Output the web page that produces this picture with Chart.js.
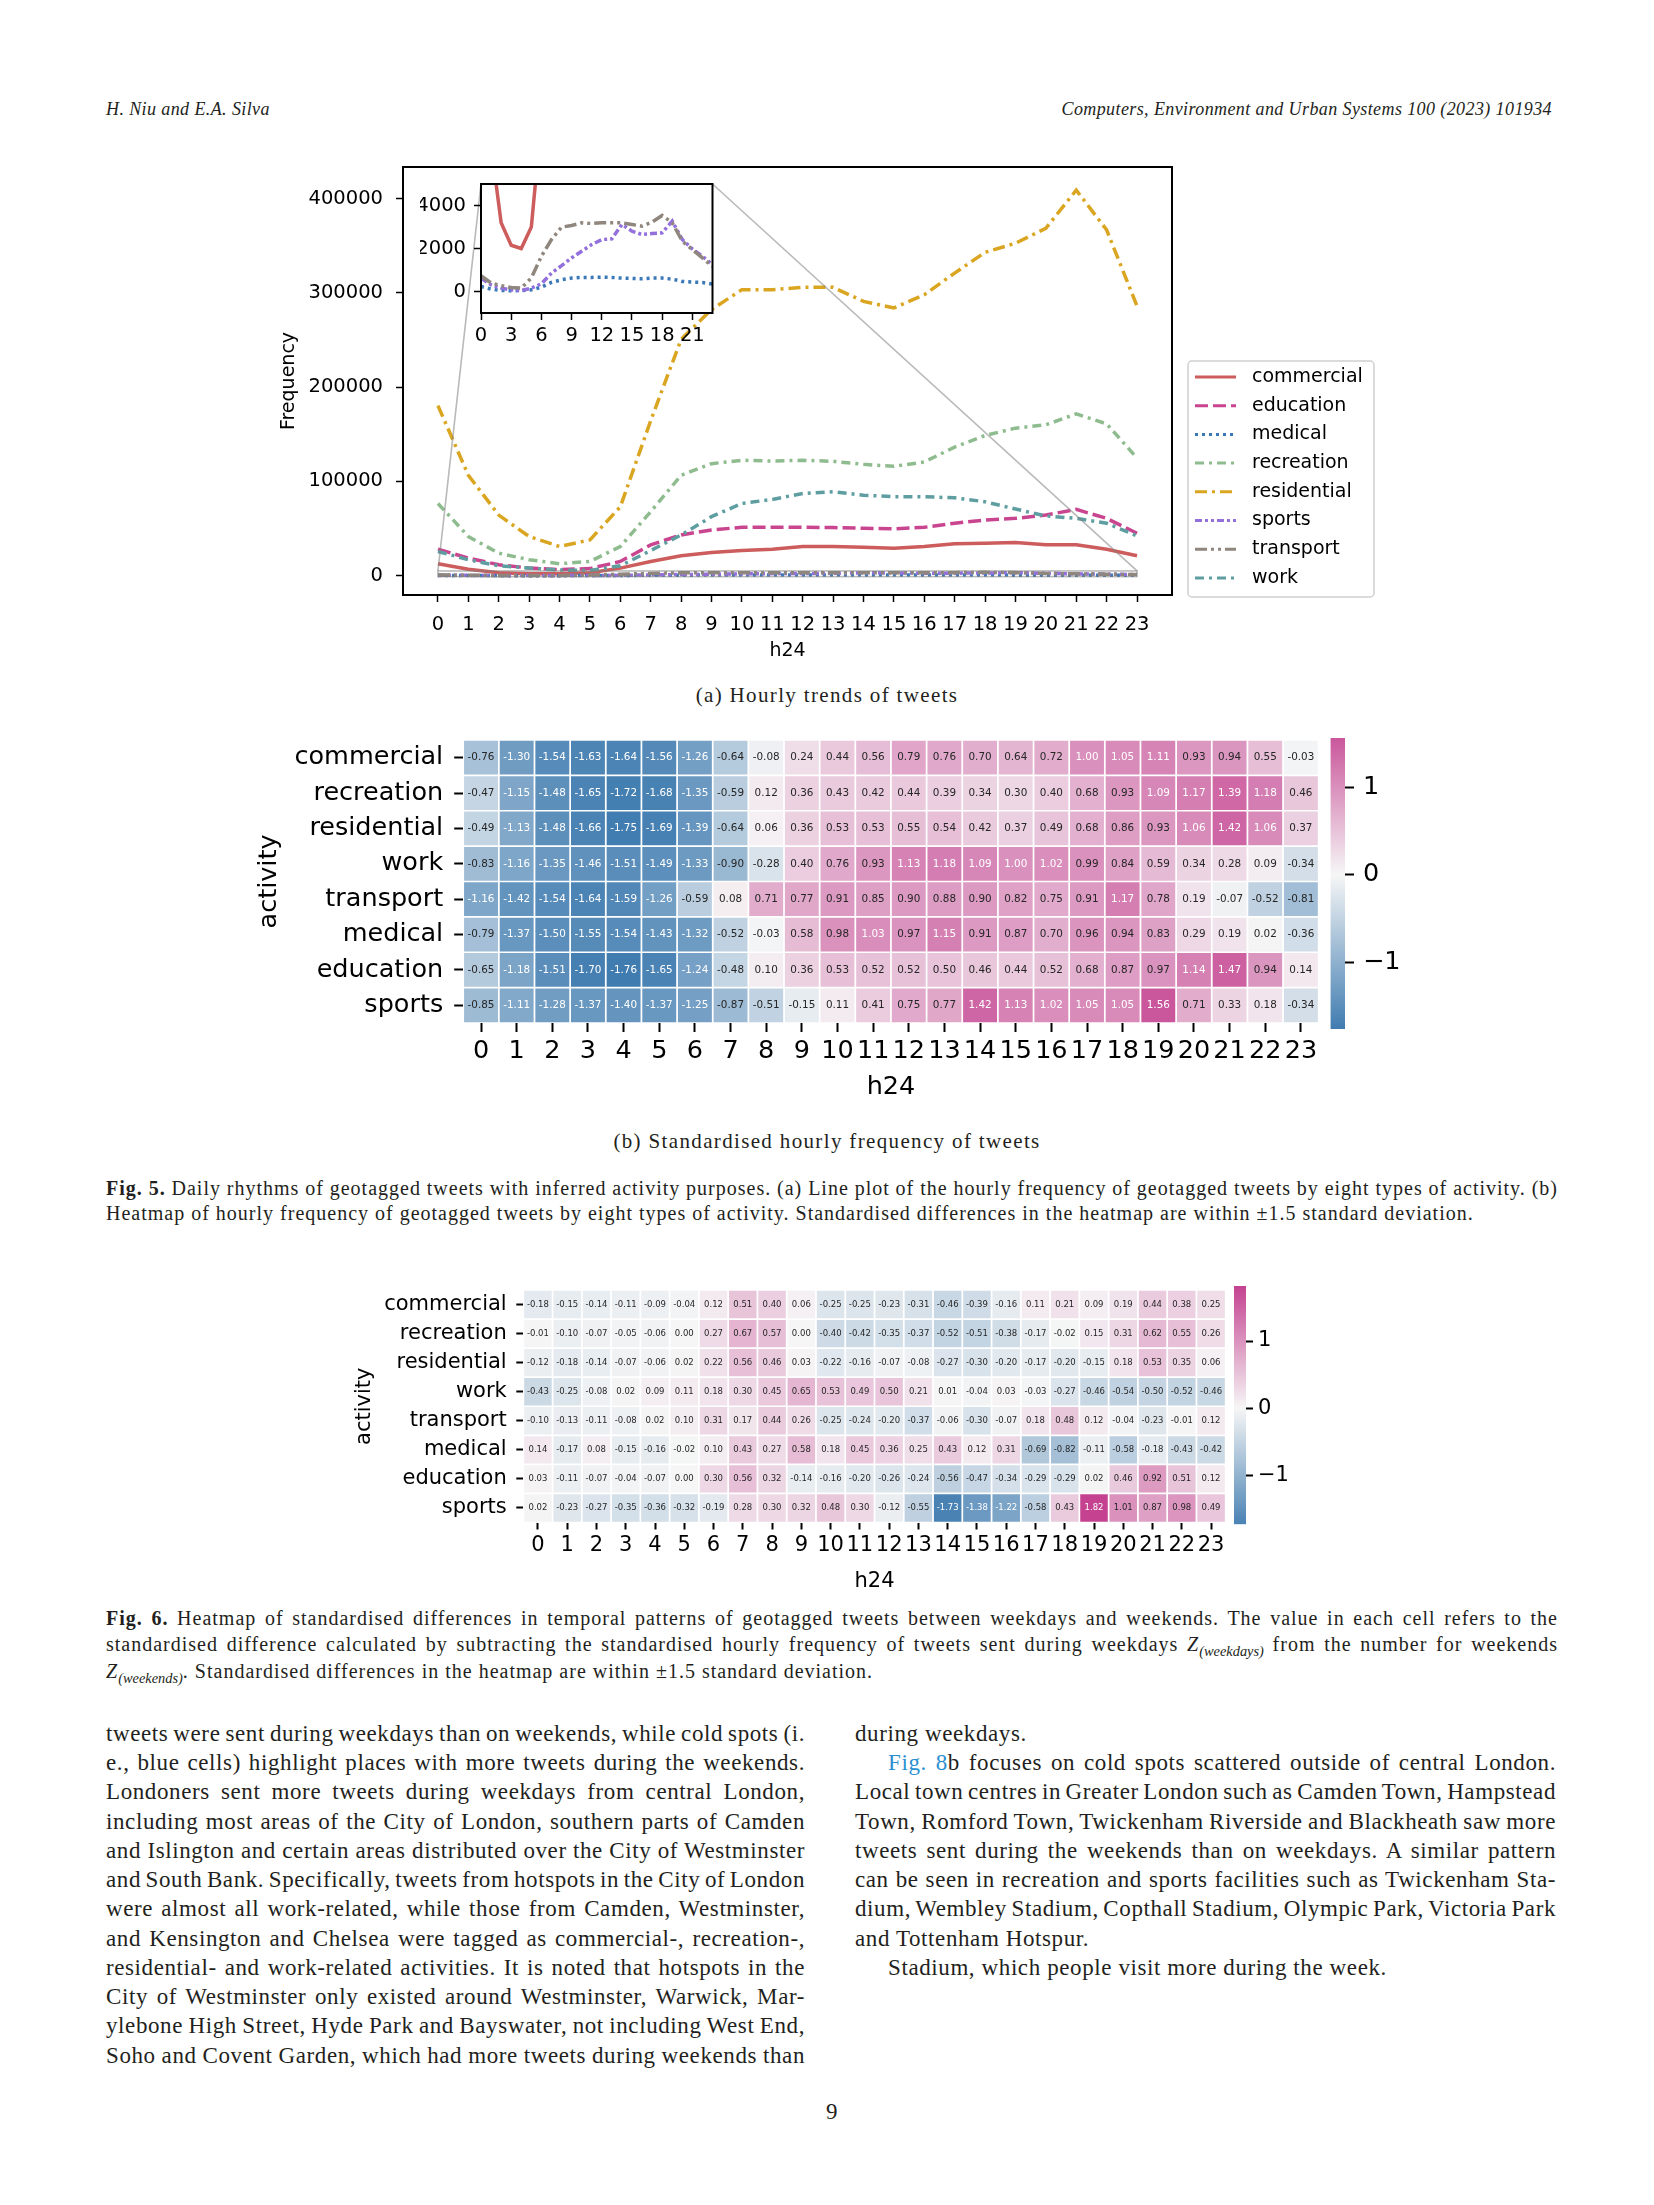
<!DOCTYPE html>
<html lang="en">
<head>
<meta charset="utf-8">
<title>Daily rhythms of geotagged tweets</title>
<script src="https://cdn.jsdelivr.net/npm/chart.js@4.4.1/dist/chart.umd.min.js"></script>
<style>
	html, body { margin: 0; padding: 0; background: #fff; }
	#page { position: relative; width: 1654px; height: 2205px; overflow: hidden; font-family: "Liberation Serif", "Times New Roman", serif; color: #231f20; }
	#page canvas { position: absolute; }
	.ln { position: absolute; height: 30px; line-height: 30px; white-space: nowrap; }
	.hd { font-style: italic; font-size: 18px; letter-spacing: 0.4px; }
	.cap { font-size: 20px; letter-spacing: 1px; }
	.sub { font-size: 21px; letter-spacing: 1.35px; left: 0; width: 1654px; text-align: center; }
	.body { font-size: 23px; letter-spacing: 0.6px; }
	.z { font-style: italic; }
	.zs { font-size: 0.72em; font-style: italic; vertical-align: -0.35em; letter-spacing: 0; }
	.lnk { color: #2a8fd0; }
</style>
</head>
<body>
<div id="page">
	<div class="ln hd" style="left:106px;top:94px;">H. Niu and E.A. Silva</div>
	<div class="ln hd" style="right:102px;top:94px;">Computers, Environment and Urban Systems 100 (2023) 101934</div>

	<canvas id="main-chart" width="1120" height="530" style="left:270px;top:150px;"></canvas>
	<canvas id="inset-chart" width="300" height="180" style="left:420px;top:176px;"></canvas>
	<div class="ln sub" style="top:680px;">(a) Hourly trends of tweets</div>

	<canvas id="heat-week" width="1080" height="390" style="left:250px;top:725px;"></canvas>
	<canvas id="bar-week" width="100" height="310" style="left:1320px;top:725px;"></canvas>
	<div class="ln sub" style="top:1126px;">(b) Standardised hourly frequency of tweets</div>

	<div class="ln cap just" style="left:106px;top:1173px;width:1452px;"><b>Fig. 5.</b> Daily rhythms of geotagged tweets with inferred activity purposes. (a) Line plot of the hourly frequency of geotagged tweets by eight types of activity. (b)</div>
	<div class="ln cap" style="left:106px;top:1198px;">Heatmap of hourly frequency of geotagged tweets by eight types of activity. Standardised differences in the heatmap are within &plusmn;1.5 standard deviation.</div>

	<canvas id="heat-diff" width="905" height="325" style="left:330px;top:1275px;"></canvas>
	<canvas id="bar-diff" width="90" height="260" style="left:1225px;top:1275px;"></canvas>

	<div class="ln cap just" style="left:106px;top:1603px;width:1452px;"><b>Fig. 6.</b> Heatmap of standardised differences in temporal patterns of geotagged tweets between weekdays and weekends. The value in each cell refers to the</div>
	<div class="ln cap just" style="left:106px;top:1629px;width:1452px;">standardised difference calculated by subtracting the standardised hourly frequency of tweets sent during weekdays <span class="z">Z</span><span class="zs">(weekdays)</span> from the number for weekends</div>
	<div class="ln cap" style="left:106px;top:1656px;"><span class="z">Z</span><span class="zs">(weekends)</span>. Standardised differences in the heatmap are within &plusmn;1.5 standard deviation.</div>

	<div class="ln body just" style="left:106px;top:1719px;width:699px;">tweets were sent during weekdays than on weekends, while cold spots (i.</div>
	<div class="ln body just" style="left:106px;top:1748px;width:699px;">e., blue cells) highlight places with more tweets during the weekends.</div>
	<div class="ln body just" style="left:106px;top:1777px;width:699px;">Londoners sent more tweets during weekdays from central London,</div>
	<div class="ln body just" style="left:106px;top:1807px;width:699px;">including most areas of the City of London, southern parts of Camden</div>
	<div class="ln body just" style="left:106px;top:1836px;width:699px;">and Islington and certain areas distributed over the City of Westminster</div>
	<div class="ln body just" style="left:106px;top:1865px;width:699px;">and South Bank. Specifically, tweets from hotspots in the City of London</div>
	<div class="ln body just" style="left:106px;top:1894px;width:699px;">were almost all work-related, while those from Camden, Westminster,</div>
	<div class="ln body just" style="left:106px;top:1924px;width:699px;">and Kensington and Chelsea were tagged as commercial-, recreation-,</div>
	<div class="ln body just" style="left:106px;top:1953px;width:699px;">residential- and work-related activities. It is noted that hotspots in the</div>
	<div class="ln body just" style="left:106px;top:1982px;width:699px;">City of Westminster only existed around Westminster, Warwick, Mar-</div>
	<div class="ln body just" style="left:106px;top:2011px;width:699px;">ylebone High Street, Hyde Park and Bayswater, not including West End,</div>
	<div class="ln body just" style="left:106px;top:2041px;width:699px;">Soho and Covent Garden, which had more tweets during weekends than</div>

	<div class="ln body" style="left:855px;top:1719px;">during weekdays.</div>
	<div class="ln body just" style="left:888px;top:1748px;width:668px;"><span class="lnk">Fig. 8</span>b focuses on cold spots scattered outside of central London.</div>
	<div class="ln body just" style="left:855px;top:1777px;width:701px;">Local town centres in Greater London such as Camden Town, Hampstead</div>
	<div class="ln body just" style="left:855px;top:1807px;width:701px;">Town, Romford Town, Twickenham Riverside and Blackheath saw more</div>
	<div class="ln body just" style="left:855px;top:1836px;width:701px;">tweets sent during the weekends than on weekdays. A similar pattern</div>
	<div class="ln body just" style="left:855px;top:1865px;width:701px;">can be seen in recreation and sports facilities such as Twickenham Sta-</div>
	<div class="ln body just" style="left:855px;top:1894px;width:701px;">dium, Wembley Stadium, Copthall Stadium, Olympic Park, Victoria Park</div>
	<div class="ln body" style="left:855px;top:1924px;">and Tottenham Hotspur.</div>
	<div class="ln body" style="left:888px;top:1953px;">Stadium, which people visit more during the week.</div>

	<div class="ln body" style="left:826px;top:2097px;">9</div>
</div>

<script>
/* ---------- Data ---------- */

var hours = [0, 1, 2, 3, 4, 5, 6, 7, 8, 9, 10, 11, 12, 13, 14, 15, 16, 17, 18, 19, 20, 21, 22, 23];

// Fig. 5a, hourly tweet counts.
var freqCommercial = [12700, 6800, 3200, 2150, 2000, 3000, 8000, 15100, 21100, 24600, 26700, 28100, 30900, 30900, 30200, 29200, 30900, 33800, 34500, 35200, 32700, 32700, 28100, 21100];
var freqEducation = [28100, 18600, 11600, 8100, 6500, 7500, 15100, 32700, 43200, 48500, 51300, 51300, 51300, 51000, 50300, 49600, 51300, 55600, 59100, 60800, 64300, 70300, 60800, 45000];
var freqMedical = [234, 109, 47, 31, 47, 78, 203, 421, 545, 623, 654, 654, 670, 654, 623, 608, 592, 623, 623, 577, 467, 436, 421, 343];
var freqRecreation = [76600, 41500, 23900, 16900, 12700, 15100, 30900, 67900, 106500, 118800, 122400, 121600, 122400, 121300, 118100, 116000, 120600, 136400, 148700, 156500, 160000, 171600, 161000, 124800];
var freqResidential = [180400, 106500, 64300, 41500, 30900, 38000, 73100, 164500, 250700, 282300, 303400, 303400, 305900, 305900, 291000, 284000, 298000, 321000, 343000, 352600, 368500, 409000, 366700, 285900];
var freqSports = [623, 311, 155, 77, 46, 155, 358, 857, 1200, 1560, 1871, 2183, 2417, 2449, 3118, 2806, 2650, 2697, 2728, 3273, 2417, 1980, 1638, 1248];
var freqTransport = [734, 397, 271, 187, 160, 628, 1638, 2417, 2993, 3070, 3196, 3164, 3196, 3196, 3196, 3118, 3040, 3226, 3537, 3196, 2340, 1950, 1560, 1170];
var freqWork = [25700, 16900, 10500, 8100, 6000, 5500, 10500, 26700, 43200, 62600, 76600, 80900, 87200, 89000, 85400, 83700, 83700, 82600, 78400, 70700, 63300, 60800, 55600, 42200];

var freqTicks = [0, 100000, 200000, 300000, 400000];
var insetTicksX = [0, 3, 6, 9, 12, 15, 18, 21];
var insetTicksY = [0, 2000, 4000];
var insetRangeX = [0, 23];
var insetRangeY = [-1000, 5000];

// Fig. 5b and Fig. 6 row order.
var heatRows = ['commercial', 'recreation', 'residential', 'work', 'transport', 'medical', 'education', 'sports'];

// Fig. 5b, standardised hourly frequency.
var zCommercial = [-0.76, -1.30, -1.54, -1.63, -1.64, -1.56, -1.26, -0.64, -0.08, 0.24, 0.44, 0.56, 0.79, 0.76, 0.70, 0.64, 0.72, 1.00, 1.05, 1.11, 0.93, 0.94, 0.55, -0.03];
var zRecreation = [-0.47, -1.15, -1.48, -1.65, -1.72, -1.68, -1.35, -0.59, 0.12, 0.36, 0.43, 0.42, 0.44, 0.39, 0.34, 0.30, 0.40, 0.68, 0.93, 1.09, 1.17, 1.39, 1.18, 0.46];
var zResidential = [-0.49, -1.13, -1.48, -1.66, -1.75, -1.69, -1.39, -0.64, 0.06, 0.36, 0.53, 0.53, 0.55, 0.54, 0.42, 0.37, 0.49, 0.68, 0.86, 0.93, 1.06, 1.42, 1.06, 0.37];
var zWork = [-0.83, -1.16, -1.35, -1.46, -1.51, -1.49, -1.33, -0.90, -0.28, 0.40, 0.76, 0.93, 1.13, 1.18, 1.09, 1.00, 1.02, 0.99, 0.84, 0.59, 0.34, 0.28, 0.09, -0.34];
var zTransport = [-1.16, -1.42, -1.54, -1.64, -1.59, -1.26, -0.59, 0.08, 0.71, 0.77, 0.91, 0.85, 0.90, 0.88, 0.90, 0.82, 0.75, 0.91, 1.17, 0.78, 0.19, -0.07, -0.52, -0.81];
var zMedical = [-0.79, -1.37, -1.50, -1.55, -1.54, -1.43, -1.32, -0.52, -0.03, 0.58, 0.98, 1.03, 0.97, 1.15, 0.91, 0.87, 0.70, 0.96, 0.94, 0.83, 0.29, 0.19, 0.02, -0.36];
var zEducation = [-0.65, -1.18, -1.51, -1.70, -1.76, -1.65, -1.24, -0.48, 0.10, 0.36, 0.53, 0.52, 0.52, 0.50, 0.46, 0.44, 0.52, 0.68, 0.87, 0.97, 1.14, 1.47, 0.94, 0.14];
var zSports = [-0.85, -1.11, -1.28, -1.37, -1.40, -1.37, -1.25, -0.87, -0.51, -0.15, 0.11, 0.41, 0.75, 0.77, 1.42, 1.13, 1.02, 1.05, 1.05, 1.56, 0.71, 0.33, 0.18, -0.34];

// Fig. 6, weekend minus weekday standardised difference.
var dCommercial = [-0.18, -0.15, -0.14, -0.11, -0.09, -0.04, 0.12, 0.51, 0.40, 0.06, -0.25, -0.25, -0.23, -0.31, -0.46, -0.39, -0.16, 0.11, 0.21, 0.09, 0.19, 0.44, 0.38, 0.25];
var dRecreation = [-0.01, -0.10, -0.07, -0.05, -0.06, 0.00, 0.27, 0.67, 0.57, 0.00, -0.40, -0.42, -0.35, -0.37, -0.52, -0.51, -0.38, -0.17, -0.02, 0.15, 0.31, 0.62, 0.55, 0.26];
var dResidential = [-0.12, -0.18, -0.14, -0.07, -0.06, 0.02, 0.22, 0.56, 0.46, 0.03, -0.22, -0.16, -0.07, -0.08, -0.27, -0.30, -0.20, -0.17, -0.20, -0.15, 0.18, 0.53, 0.35, 0.06];
var dWork = [-0.43, -0.25, -0.08, 0.02, 0.09, 0.11, 0.18, 0.30, 0.45, 0.65, 0.53, 0.49, 0.50, 0.21, 0.01, -0.04, 0.03, -0.03, -0.27, -0.46, -0.54, -0.50, -0.52, -0.46];
var dTransport = [-0.10, -0.13, -0.11, -0.08, 0.02, 0.10, 0.31, 0.17, 0.44, 0.26, -0.25, -0.24, -0.20, -0.37, -0.06, -0.30, -0.07, 0.18, 0.48, 0.12, -0.04, -0.23, -0.01, 0.12];
var dMedical = [0.14, -0.17, 0.08, -0.15, -0.16, -0.02, 0.10, 0.43, 0.27, 0.58, 0.18, 0.45, 0.36, 0.25, 0.43, 0.12, 0.31, -0.69, -0.82, -0.11, -0.58, -0.18, -0.43, -0.42];
var dEducation = [0.03, -0.11, -0.07, -0.04, -0.07, 0.00, 0.30, 0.56, 0.32, -0.14, -0.16, -0.20, -0.26, -0.24, -0.56, -0.47, -0.34, -0.29, -0.29, 0.02, 0.46, 0.92, 0.51, 0.12];
var dSports = [0.02, -0.23, -0.27, -0.35, -0.36, -0.32, -0.19, 0.28, 0.30, 0.32, 0.48, 0.30, -0.12, -0.55, -1.73, -1.38, -1.22, -0.58, 0.43, 1.82, 1.01, 0.87, 0.98, 0.49];

var colorbarTicks = [-1, 0, 1];

(function () {
	'use strict';

	/* ---------- Justified text lines ---------- */

	// Each line of the page is laid out by hand; stretch the spaces so the line fills its column.
	document.querySelectorAll('.just').forEach(function (el) {
		var range = document.createRange();
		range.selectNodeContents(el);
		var natural = range.getBoundingClientRect().width;
		var spaces = (el.textContent.match(/ /g) || []).length;
		if (spaces > 0) {
			el.style.wordSpacing = ((el.clientWidth - natural) / spaces) + 'px';
		}
	});

	/* ---------- Helpers ---------- */

	var SANS = '"DejaVu Sans", sans-serif';

	var SERIES = [
		{ label: 'commercial', data: freqCommercial, color: '#cd5c5c', dash: [] },
		{ label: 'education', data: freqEducation, color: '#c9458f', dash: [13, 5] },
		{ label: 'medical', data: freqMedical, color: '#3b78b8', dash: [3, 4] },
		{ label: 'recreation', data: freqRecreation, color: '#8fbc8f', dash: [9, 5, 3, 5] },
		{ label: 'residential', data: freqResidential, color: '#daa520', dash: [12, 5, 3, 5] },
		{ label: 'sports', data: freqSports, color: '#9370db', dash: [7, 3, 3, 3, 3, 3] },
		{ label: 'transport', data: freqTransport, color: '#8f877d', dash: [12, 4, 3, 4, 3, 4] },
		{ label: 'work', data: freqWork, color: '#5f9ea0', dash: [9, 5, 3, 5] },
	];

	var NEG = [64, 124, 176];
	var MID = [246, 246, 246];
	var POS = [196, 66, 144];

	function cmap(v, vr) {
		var t = Math.max(-1, Math.min(1, v / vr));
		var end = t < 0 ? NEG : POS;
		var a = Math.abs(t);
		var c = [0, 1, 2].map(function (i) {
			return Math.round(MID[i] + (end[i] - MID[i]) * a);
		});
		return 'rgb(' + c.join(',') + ')';
	}

	function rgb(c) {
		return 'rgb(' + c.join(',') + ')';
	}

	function lineDatasets() {
		return SERIES.map(function (s, i) {
			return {
				label: s.label,
				data: hours.map(function (h, k) {
					return { x: h, y: s.data[k] };
				}),
				borderColor: s.color,
				borderDash: s.dash,
				borderWidth: 3.5,
				pointRadius: 0,
				tension: 0,
				fill: false,
				order: SERIES.length - i,
			};
		});
	}

	function fixedTicks(values) {
		return function (scale) {
			scale.ticks = values.map(function (v) {
				return { value: v };
			});
		};
	}

	// Force the axis box size and drop the label overhang padding Chart.js adds.
	function fitBox(size) {
		return function (s) {
			if (s.isHorizontal()) {
				s.height = size;
			} else {
				s.width = size;
			}
			s.paddingTop = 0;
			s.paddingBottom = 0;
			s.paddingLeft = 0;
			s.paddingRight = 0;
		};
	}

	function tickGrid(len, width) {
		return {
			display: true,
			drawOnChartArea: false,
			drawTicks: true,
			tickLength: len,
			tickWidth: width,
			tickColor: '#000',
			offset: false,
		};
	}

	/* ---------- Plugins ---------- */

	var framePlugin = {
		id: 'frame',
		beforeDraw: function (chart, args, opts) {
			if (!opts.fill) {
				return;
			}
			var a = chart.chartArea;
			chart.ctx.save();
			chart.ctx.fillStyle = '#fff';
			chart.ctx.fillRect(a.left, a.top, a.right - a.left, a.bottom - a.top);
			chart.ctx.restore();
		},
		afterDraw: function (chart) {
			var a = chart.chartArea;
			var ctx = chart.ctx;
			ctx.save();
			ctx.strokeStyle = '#000';
			ctx.lineWidth = 2;
			ctx.strokeRect(a.left, a.top, a.right - a.left, a.bottom - a.top);
			ctx.restore();
		},
	};

	var insetChart = null;
	var insetCanvas = document.getElementById('inset-chart');

	// Grey zoom rectangle plus the two connector lines to the inset.
	var zoomLines = {
		id: 'zoomLines',
		afterDatasetsDraw: function (chart) {
			if (!insetChart) {
				return;
			}
			var xs = chart.scales.x;
			var ys = chart.scales.y;
			var ia = insetChart.chartArea;
			var dx = insetCanvas.offsetLeft - chart.canvas.offsetLeft;
			var dy = insetCanvas.offsetTop - chart.canvas.offsetTop;
			var x0 = xs.getPixelForValue(insetRangeX[0]);
			var x1 = xs.getPixelForValue(insetRangeX[1]);
			var y0 = ys.getPixelForValue(insetRangeY[0]);
			var y1 = ys.getPixelForValue(insetRangeY[1]);
			var ctx = chart.ctx;
			ctx.save();
			ctx.strokeStyle = 'rgba(128,128,128,0.55)';
			ctx.lineWidth = 1.6;
			ctx.strokeRect(x0, y1, x1 - x0, y0 - y1);
			ctx.beginPath();
			ctx.moveTo(ia.left + dx, ia.top + dy);
			ctx.lineTo(x0, y1);
			ctx.moveTo(ia.right + dx, ia.top + dy);
			ctx.lineTo(x1, y1);
			ctx.stroke();
			ctx.restore();
		},
	};

	// Matplotlib-like framed legend to the right of the axes.
	var boxLegend = {
		id: 'boxLegend',
		afterDraw: function (chart) {
			var a = chart.chartArea;
			var ctx = chart.ctx;
			var left = a.right + 16;
			var top = a.bottom - 234;
			var w = 186;
			var h = 236;
			ctx.save();
			ctx.fillStyle = 'rgba(255,255,255,0.85)';
			ctx.strokeStyle = '#d0d0d0';
			ctx.lineWidth = 1.5;
			ctx.beginPath();
			ctx.roundRect(left, top, w, h, 4);
			ctx.fill();
			ctx.stroke();
			ctx.font = '19px ' + SANS;
			ctx.textBaseline = 'middle';
			chart.data.datasets.forEach(function (ds, i) {
				var y = top + 16 + i * 28.7;
				ctx.strokeStyle = ds.borderColor;
				ctx.lineWidth = 3;
				ctx.setLineDash(ds.borderDash);
				ctx.beginPath();
				ctx.moveTo(left + 7, y);
				ctx.lineTo(left + 48, y);
				ctx.stroke();
				ctx.setLineDash([]);
				ctx.fillStyle = '#000';
				ctx.fillText(ds.label, left + 64, y);
			});
			ctx.restore();
		},
	};

	function cellText(rows, vr, size) {
		return {
			id: 'cellText',
			afterDatasetsDraw: function (chart) {
				var xs = chart.scales.x;
				var ys = chart.scales.y;
				var ctx = chart.ctx;
				ctx.save();
				ctx.font = size + 'px ' + SANS;
				ctx.textAlign = 'center';
				ctx.textBaseline = 'middle';
				rows.forEach(function (row, r) {
					row.forEach(function (v, k) {
						ctx.fillStyle = Math.abs(v) / vr > 0.565 ? '#fff' : '#262626';
						ctx.fillText(v.toFixed(2), xs.getPixelForValue(hours[k] + 0.5), ys.getPixelForValue(r));
					});
				});
				ctx.restore();
			},
		};
	}

	var base = {
		responsive: false,
		animation: false,
		devicePixelRatio: 1,
		events: [],
	};

	function opts(extra) {
		return Object.assign({}, base, extra);
	}

	/* ---------- Fig. 5a line chart with inset ---------- */

	insetChart = new Chart(insetCanvas, {
		type: 'line',
		data: { datasets: lineDatasets() },
		plugins: [framePlugin],
		options: opts({
			layout: { padding: { top: 8, right: 7.5, bottom: 0, left: 0 } },
			scales: {
				x: {
					type: 'linear',
					min: insetRangeX[0],
					max: insetRangeX[1],
					afterBuildTicks: fixedTicks(insetTicksX),
					afterFit: fitBox(43),
					grid: tickGrid(7, 1.5),
					border: { display: false },
					ticks: { color: '#000', font: { family: SANS, size: 19.5 }, padding: 4, maxRotation: 0, autoSkip: false },
				},
				y: {
					min: insetRangeY[0],
					max: insetRangeY[1],
					afterBuildTicks: fixedTicks(insetTicksY),
					afterFit: fitBox(61),
					grid: tickGrid(7, 1.5),
					border: { display: false },
					ticks: { color: '#000', font: { family: SANS, size: 19.5 }, padding: 8, callback: function (v) { return String(v); } },
				},
			},
			plugins: { legend: { display: false }, tooltip: { enabled: false }, frame: { fill: true } },
		}),
	});

	new Chart(document.getElementById('main-chart'), {
		type: 'line',
		data: { datasets: lineDatasets() },
		plugins: [framePlugin, zoomLines, boxLegend],
		options: opts({
			layout: { padding: { top: 17, right: 218, bottom: 0, left: 0 } },
			scales: {
				x: {
					type: 'linear',
					min: -1.15,
					max: 24.15,
					afterBuildTicks: fixedTicks(hours),
					afterFit: fitBox(85),
					grid: tickGrid(7, 1.5),
					border: { display: false },
					ticks: { color: '#000', font: { family: SANS, size: 19.5 }, padding: 11, maxRotation: 0, autoSkip: false },
					title: { display: true, text: 'h24', color: '#000', font: { family: SANS, size: 19 }, padding: { top: 0, bottom: 18 } },
				},
				y: {
					min: -20500,
					max: 433500,
					afterBuildTicks: fixedTicks(freqTicks),
					afterFit: fitBox(133),
					grid: tickGrid(7, 1.5),
					border: { display: false },
					ticks: { color: '#000', font: { family: SANS, size: 19.5 }, padding: 13, callback: function (v) { return String(v); } },
					title: { display: true, text: 'Frequency', color: '#000', font: { family: SANS, size: 19 }, padding: { top: 7.6, bottom: 0 } },
				},
			},
			plugins: { legend: { display: false }, tooltip: { enabled: false }, frame: { fill: false } },
		}),
	});

	/* ---------- Heatmaps (floating bars, one dataset per hour) ---------- */

	function buildHeatmap(canvasId, barId, rows, look) {
		var flat = [].concat.apply([], rows);
		var vmin = Math.min.apply(null, flat);
		var vmax = Math.max.apply(null, flat);
		var vr = Math.max(Math.abs(vmin), Math.abs(vmax));

		var datasets = hours.map(function (h, k) {
			return {
				data: rows.map(function () { return [h, h + 1]; }),
				backgroundColor: rows.map(function (row) { return cmap(row[k], vr); }),
				borderColor: '#fff',
				borderWidth: 1.2,
				borderSkipped: false,
				grouped: false,
				barPercentage: 1,
				categoryPercentage: 1,
			};
		});

		new Chart(document.getElementById(canvasId), {
			type: 'bar',
			data: { labels: heatRows, datasets: datasets },
			plugins: [cellText(rows, vr, look.cellSize)],
			options: opts({
				indexAxis: 'y',
				layout: { padding: look.padding },
				scales: {
					x: {
						type: 'linear',
						min: 0,
						max: 24,
						afterBuildTicks: fixedTicks(hours.map(function (h) { return h + 0.5; })),
						afterFit: fitBox(look.xHeight),
						grid: tickGrid(look.tick, 2),
						border: { display: false },
						ticks: {
							color: '#000',
							font: { family: SANS, size: look.font },
							padding: look.xPad,
							maxRotation: 0,
							minRotation: 0,
							autoSkip: false,
							callback: function (v, i) { return String(hours[i]); },
						},
						title: { display: true, text: 'h24', color: '#000', font: { family: SANS, size: look.font }, padding: { top: 0, bottom: look.xTitlePad } },
					},
					y: {
						type: 'category',
						afterFit: fitBox(look.yWidth),
						grid: tickGrid(look.tick, 2),
						border: { display: false },
						ticks: { color: '#000', font: { family: SANS, size: look.font }, padding: look.yPad },
						title: { display: true, text: 'activity', color: '#000', font: { family: SANS, size: look.font }, padding: { top: look.yTitlePad, bottom: 0 } },
					},
				},
				plugins: { legend: { display: false }, tooltip: { enabled: false } },
			}),
		});

		// Colour bar.
		new Chart(document.getElementById(barId), {
			type: 'bar',
			data: {
				labels: [''],
				datasets: [{
					data: [[vmin, vmax]],
					backgroundColor: function (c) {
						var chart = c.chart;
						if (!chart.chartArea) {
							return null;
						}
						var ys = chart.scales.y;
						var g = chart.ctx.createLinearGradient(0, ys.getPixelForValue(vr), 0, ys.getPixelForValue(-vr));
						g.addColorStop(0, rgb(POS));
						g.addColorStop(0.5, rgb(MID));
						g.addColorStop(1, rgb(NEG));
						return g;
					},
					borderWidth: 0,
					barPercentage: 1,
					categoryPercentage: 1,
				}],
			},
			options: opts({
				layout: { padding: look.barPadding },
				scales: {
					x: { display: false },
					y: {
						position: 'right',
						min: vmin,
						max: vmax,
						afterBuildTicks: fixedTicks(colorbarTicks),
						afterFit: fitBox(look.barWidth),
						grid: tickGrid(look.tick, 2),
						border: { display: false },
						ticks: {
							color: '#000',
							font: { family: SANS, size: look.font },
							padding: look.barPad,
							callback: function (v) { return v < 0 ? '\u2212' + Math.abs(v) : String(v); },
						},
					},
				},
				plugins: { legend: { display: false }, tooltip: { enabled: false } },
			}),
		});
	}

	buildHeatmap('heat-week', 'bar-week',
		[zCommercial, zRecreation, zResidential, zWork, zTransport, zMedical, zEducation, zSports], {
			padding: { top: 15, right: 11.3, bottom: 0, left: 0 },
			xHeight: 92,
			yWidth: 213.2,
			tick: 9,
			font: 25.5,
			cellSize: 10.4,
			xPad: 4.5,
			yPad: 11,
			xTitlePad: 12,
			yTitlePad: 4,
			barPadding: { top: 13, right: 0, bottom: 6, left: 10.5 },
			barWidth: 75,
			barPad: 9,
		});

	buildHeatmap('heat-diff', 'bar-diff',
		[dCommercial, dRecreation, dResidential, dWork, dTransport, dMedical, dEducation, dSports], {
			padding: { top: 15, right: 9.3, bottom: 0, left: 0 },
			xHeight: 77.5,
			yWidth: 193.3,
			tick: 7,
			font: 21,
			cellSize: 8.5,
			xPad: 3.5,
			yPad: 9.6,
			xTitlePad: 6,
			yTitlePad: 22,
			barPadding: { top: 11, right: 0, bottom: 10.7, left: 9 },
			barWidth: 69,
			barPad: 5,
		});
})();
</script>
</body>
</html>
